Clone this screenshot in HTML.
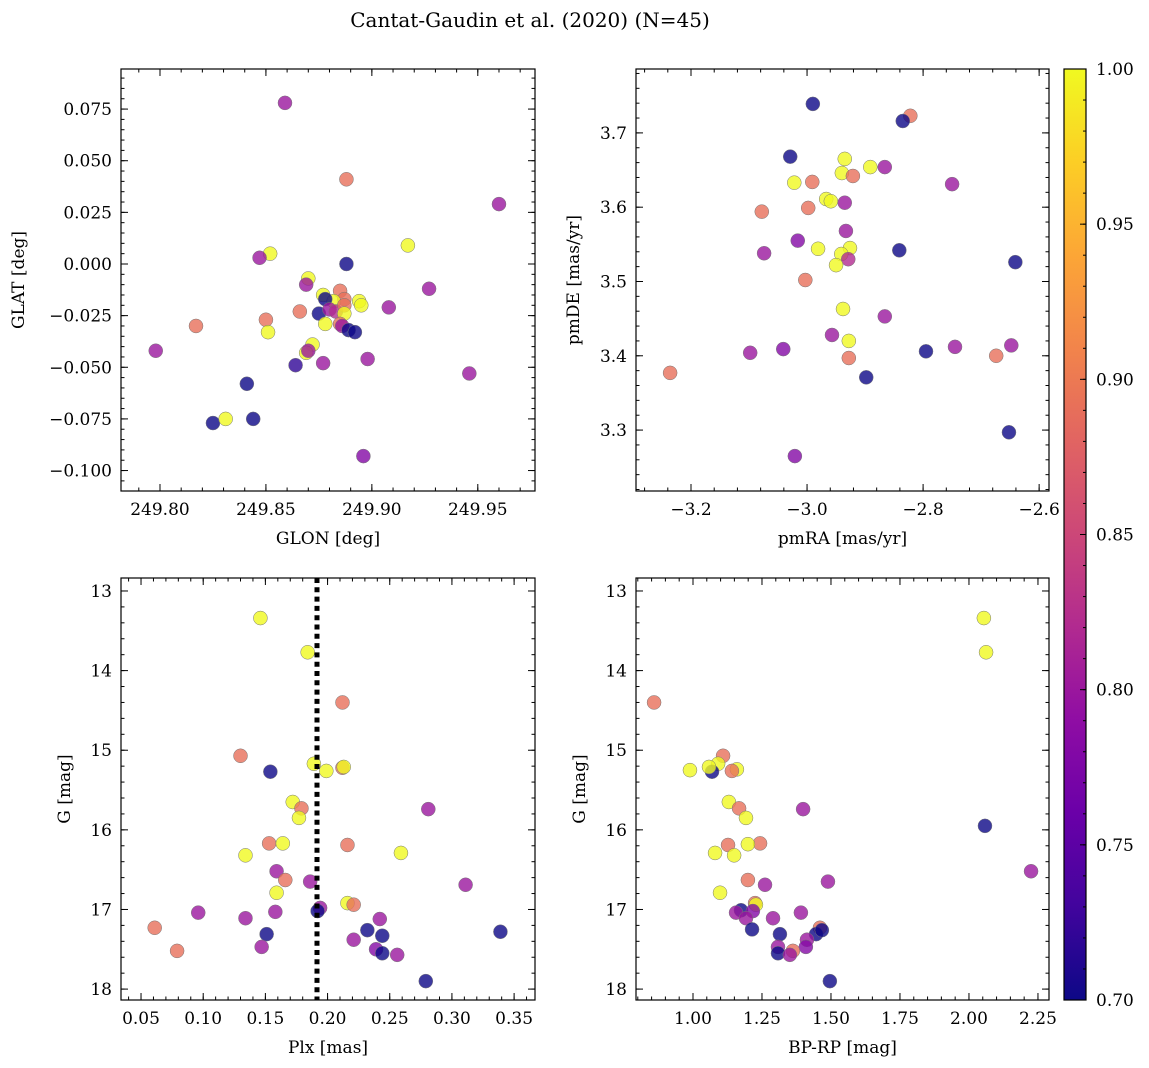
<!DOCTYPE html>
<html><head><meta charset="utf-8">
<style>
html,body{margin:0;padding:0;background:#fff;}
svg{display:block;font-family:"DejaVu Serif","Liberation Serif",serif;}
</style></head>
<body>
<svg id="fig" width="1149" height="1068" viewBox="0 0 1149 1068">
<defs>
<linearGradient id="plasma" x1="0" y1="1" x2="0" y2="0">
<stop offset="0" stop-color="#0d0887"/><stop offset="0.1" stop-color="#41049d"/><stop offset="0.2" stop-color="#6a00a8"/><stop offset="0.3" stop-color="#8f0da4"/><stop offset="0.4" stop-color="#b12a90"/><stop offset="0.5" stop-color="#cc4778"/><stop offset="0.6" stop-color="#e16462"/><stop offset="0.7" stop-color="#f2844b"/><stop offset="0.8" stop-color="#fca636"/><stop offset="0.9" stop-color="#fcce25"/><stop offset="1" stop-color="#f0f921"/>
</linearGradient>
</defs>
<text x="530" y="27" font-size="20" text-anchor="middle">Cantat-Gaudin et al. (2020) (N=45)</text>
</svg>
<script>
// ---- Data ----
const glon = [249.859,249.888,249.960,249.917,249.852,249.847,249.888,249.927,249.870,249.869,249.817,249.850,249.851,249.866,249.877,249.885,249.887,249.882,249.878,249.875,249.880,249.883,249.887,249.894,249.895,249.887,249.878,249.885,249.886,249.889,249.892,249.908,249.872,249.869,249.870,249.864,249.877,249.898,249.798,249.946,249.841,249.825,249.831,249.844,249.896];
const glat = [0.078,0.041,0.029,0.009,0.005,0.003,0.000,-0.012,-0.007,-0.010,-0.030,-0.027,-0.033,-0.023,-0.015,-0.013,-0.017,-0.018,-0.017,-0.024,-0.022,-0.023,-0.020,-0.018,-0.020,-0.024,-0.029,-0.029,-0.030,-0.032,-0.033,-0.021,-0.039,-0.043,-0.042,-0.049,-0.048,-0.046,-0.042,-0.053,-0.058,-0.077,-0.075,-0.075,-0.093];
const probA = [0.80,0.89,0.80,1.0,1.0,0.80,0.70,0.80,1.0,0.80,0.89,0.89,1.0,0.89,1.0,0.89,0.89,1.0,0.70,0.70,0.80,0.82,0.89,1.0,1.0,1.0,1.0,0.89,0.80,0.70,0.70,0.80,1.0,1.0,0.80,0.72,0.80,0.80,0.80,0.80,0.70,0.70,1.0,0.70,0.78];

const pmra = [-2.990,-2.822,-2.835,-3.029,-2.935,-2.891,-2.866,-2.940,-3.022,-2.991,-2.921,-2.750,-3.078,-2.998,-2.967,-2.959,-2.935,-2.933,-3.016,-2.981,-3.074,-2.926,-2.941,-2.929,-2.950,-2.841,-2.641,-3.003,-2.938,-2.866,-2.928,-2.957,-3.098,-3.041,-2.928,-2.795,-2.745,-2.674,-2.648,-3.236,-2.898,-2.652,-3.021];
const pmde = [3.739,3.723,3.716,3.668,3.665,3.654,3.654,3.646,3.633,3.634,3.642,3.631,3.594,3.599,3.611,3.608,3.606,3.568,3.555,3.544,3.538,3.545,3.537,3.530,3.522,3.542,3.526,3.502,3.463,3.453,3.420,3.428,3.404,3.409,3.397,3.406,3.412,3.400,3.414,3.377,3.371,3.297,3.265];
const probB = [0.70,0.89,0.70,0.70,1.0,1.0,0.80,1.0,1.0,0.89,0.89,0.80,0.89,0.89,1.0,1.0,0.80,0.80,0.78,1.0,0.80,1.0,1.0,0.82,1.0,0.70,0.70,0.89,1.0,0.80,1.0,0.80,0.80,0.78,0.89,0.70,0.80,0.89,0.80,0.89,0.70,0.70,0.78];

const plx = [0.146,0.184,0.212,0.130,0.189,0.212,0.213,0.199,0.154,0.172,0.179,0.177,0.281,0.216,0.153,0.164,0.134,0.259,0.159,0.166,0.186,0.159,0.311,0.216,0.221,0.194,0.192,0.096,0.158,0.134,0.242,0.061,0.232,0.151,0.244,0.339,0.221,0.147,0.239,0.079,0.244,0.256,0.279];
const gmagC = [13.34,13.77,14.40,15.07,15.17,15.22,15.21,15.26,15.27,15.65,15.73,15.85,15.74,16.19,16.17,16.17,16.32,16.29,16.52,16.63,16.65,16.79,16.69,16.92,16.94,16.98,17.02,17.04,17.03,17.11,17.12,17.23,17.26,17.31,17.33,17.28,17.38,17.47,17.50,17.52,17.55,17.57,17.90];
const probC = [1.0,1.0,0.89,0.89,1.0,0.89,1.0,1.0,0.70,1.0,0.89,1.0,0.80,0.89,0.89,1.0,1.0,1.0,0.80,0.89,0.80,1.0,0.80,1.0,0.89,0.80,0.70,0.80,0.80,0.80,0.80,0.89,0.70,0.70,0.70,0.70,0.80,0.80,0.78,0.89,0.70,0.80,0.70];
const plxCut = [0.1915];

const bprp = [2.054,2.062,0.859,1.109,0.989,1.091,1.069,1.058,1.159,1.141,1.130,1.167,1.399,1.192,2.058,1.127,1.243,1.199,1.080,1.149,2.225,1.199,1.261,1.489,1.098,1.225,1.228,1.174,1.217,1.156,1.391,1.192,1.290,1.214,1.315,1.460,1.446,1.467,1.413,1.308,1.409,1.362,1.308,1.351,1.496];
const gmagD = [13.34,13.77,14.40,15.07,15.25,15.17,15.27,15.21,15.24,15.26,15.65,15.73,15.74,15.85,15.95,16.19,16.17,16.18,16.29,16.32,16.52,16.63,16.69,16.65,16.79,16.92,16.94,17.01,17.02,17.04,17.04,17.11,17.11,17.25,17.31,17.23,17.31,17.26,17.38,17.47,17.47,17.52,17.55,17.57,17.90];
const probD = [1.0,1.0,0.89,0.89,1.0,1.0,0.70,1.0,1.0,0.89,1.0,0.89,0.80,1.0,0.70,0.89,0.89,1.0,1.0,1.0,0.80,0.89,0.80,0.80,1.0,0.89,1.0,0.70,0.78,0.80,0.80,0.80,0.80,0.70,0.70,0.89,0.70,0.70,0.80,0.80,0.78,0.89,0.70,0.80,0.70];

const cbTicks = [0.70,0.75,0.80,0.85,0.90,0.95,1.00];

// ---- Rendering ----
const NS='http://www.w3.org/2000/svg';
const svg=document.getElementById('fig');
function el(tag,attrs,parent){const e=document.createElementNS(NS,tag);for(const k in attrs)e.setAttribute(k,attrs[k]);(parent||svg).appendChild(e);return e;}
const stops=[[13,8,135],[65,4,157],[106,0,168],[143,13,164],[177,42,144],[204,71,120],[225,100,98],[242,132,75],[252,166,54],[252,206,37],[240,249,33]];
function plasma(v){let t=(v-0.7)/0.3;t=Math.max(0,Math.min(1,t))*10;const i=Math.min(9,Math.floor(t)),f=t-i;const a=stops[i],b=stops[i+1];return 'rgb('+a.map((c,k)=>Math.round(c+(b[k]-c)*f)).join(',')+')';}
function range(a,b,s){const r=[];for(let v=a;v<=b+s*1e-6;v+=s)r.push(+v.toFixed(6));return r;}

function panel(o){
  const g=el('g',{},svg);
  
  
  const X=v=>o.x0+(v-o.xmin)/(o.xmax-o.xmin)*(o.x1-o.x0);
  const Y=o.invert? v=>o.y0+(v-o.ymin)/(o.ymax-o.ymin)*(o.y1-o.y0) : v=>o.y1-(v-o.ymin)/(o.ymax-o.ymin)*(o.y1-o.y0);
  const pg=el('g',{},g);
  
  
  for(let i=0;i<o.xs.length;i++){
    const c=el('circle',{cx:X(o.xs[i]),cy:Y(o.ys[i]),r:7,fill:plasma(o.cs[i]),'fill-opacity':0.8,stroke:'#777','stroke-width':0.5},pg);
    
    
  }
  if(o.vline){
    const l=el('line',{x1:X(o.vline),x2:X(o.vline),y1:o.y0,y2:o.y1,stroke:'#000','stroke-width':5,'stroke-dasharray':'5,4.3'},g);
    
    
  }
  const tg=el('g',{stroke:'#000','stroke-width':1},g);
  o.xminor.forEach(v=>{if(v<o.xmin||v>o.xmax)return;const x=X(v);el('line',{x1:x,x2:x,y1:o.y1,y2:o.y1-3.5},tg);el('line',{x1:x,x2:x,y1:o.y0,y2:o.y0+3.5},tg);});
  o.yminor.forEach(v=>{const lo=Math.min(o.ymin,o.ymax),hi=Math.max(o.ymin,o.ymax);if(v<lo||v>hi)return;const y=Y(v);el('line',{x1:o.x0,x2:o.x0+3.5,y1:y,y2:y},tg);el('line',{x1:o.x1,x2:o.x1-3.5,y1:y,y2:y},tg);});
  o.xmajor.forEach(v=>{const x=X(v);el('line',{x1:x,x2:x,y1:o.y1,y2:o.y1-7},tg);el('line',{x1:x,x2:x,y1:o.y0,y2:o.y0+7},tg);
    const t=el('text',{x:x,y:o.y1+24,'font-size':17,'text-anchor':'middle',stroke:'none'},g);t.textContent=o.xfmt(v);
    });
  o.ymajor.forEach(v=>{const y=Y(v);el('line',{x1:o.x0,x2:o.x0+7,y1:y,y2:y},tg);el('line',{x1:o.x1,x2:o.x1-7,y1:y,y2:y},tg);
    const t=el('text',{x:o.x0-9,y:y+6,'font-size':17,'text-anchor':'end',stroke:'none'},g);t.textContent=o.yfmt(v);
    });
  const f=el('rect',{x:o.x0,y:o.y0,width:o.x1-o.x0,height:o.y1-o.y0,fill:'none',stroke:'#000','stroke-width':1.2},g);
  
  const xl=el('text',{x:(o.x0+o.x1)/2,y:o.y1+53,'font-size':17,'text-anchor':'middle'},g);xl.textContent=o.xlabel;
  
  const yc=(o.y0+o.y1)/2;
  const yl=el('text',{x:o.ylx,y:yc,'font-size':17,'text-anchor':'middle',transform:'rotate(-90 '+o.ylx+' '+yc+')'},g);yl.textContent=o.ylabel;
  
}
const neg=s=>s.replace('-','\u2212');
panel({name:'glon-glat-panel',x0:121,x1:535,y0:69,y1:491,xmin:249.7816,xmax:249.977,ymin:-0.1099,ymax:0.0944,
  xs:glon,ys:glat,cs:probA,xmajor:range(249.80,249.95,0.05),xminor:range(249.78,249.98,0.01),
  ymajor:range(-0.1,0.075,0.025),yminor:range(-0.11,0.095,0.005),xfmt:v=>v.toFixed(2),yfmt:v=>neg(v.toFixed(3)),
  xlabel:'GLON [deg]',ylabel:'GLAT [deg]',ylx:24});
panel({name:'proper-motion-panel',x0:636,x1:1049,y0:69,y1:491,xmin:-3.2948,xmax:-2.583,ymin:3.218,ymax:3.786,
  xs:pmra,ys:pmde,cs:probB,xmajor:range(-3.2,-2.6,0.2),xminor:range(-3.28,-2.56,0.04),
  ymajor:range(3.3,3.7,0.1),yminor:range(3.22,3.78,0.02),xfmt:v=>neg(v.toFixed(1)),yfmt:v=>v.toFixed(1),
  xlabel:'pmRA [mas/yr]',ylabel:'pmDE [mas/yr]',ylx:579});
panel({name:'parallax-magnitude-panel',x0:121,x1:535,y0:578,y1:1000,xmin:0.0339,xmax:0.3668,ymin:12.837,ymax:18.137,invert:true,
  xs:plx,ys:gmagC,cs:probC,vline:plxCut[0],xmajor:range(0.05,0.35,0.05),xminor:range(0.04,0.36,0.01),
  ymajor:range(13,18,1),yminor:range(13,18,0.2),xfmt:v=>v.toFixed(2),yfmt:v=>v.toFixed(0),
  xlabel:'Plx [mas]',ylabel:'G [mag]',ylx:70});
panel({name:'color-magnitude-panel',x0:636,x1:1049,y0:578,y1:1000,xmin:0.7935,xmax:2.29,ymin:12.837,ymax:18.137,invert:true,
  xs:bprp,ys:gmagD,cs:probD,xmajor:range(1.0,2.25,0.25),xminor:range(0.8,2.25,0.05),
  ymajor:range(13,18,1),yminor:range(13,18,0.2),xfmt:v=>v.toFixed(2),yfmt:v=>v.toFixed(0),
  xlabel:'BP-RP [mag]',ylabel:'G [mag]',ylx:585});
const cb=el('g',{},svg);


const cbx0=1064,cbx1=1086,cby0=69,cby1=1000;
el('rect',{x:cbx0,y:cby0,width:cbx1-cbx0,height:cby1-cby0,fill:'url(#plasma)',stroke:'#000','stroke-width':1.2},cb);
const CY=v=>cby1-(v-0.7)/0.3*(cby1-cby0);
range(0.70,1.0,0.01).forEach(v=>{el('line',{x1:cbx1,x2:cbx1-3,y1:CY(v),y2:CY(v),stroke:'#000'},cb);});
cbTicks.forEach(v=>{const y=CY(v);el('line',{x1:cbx1,x2:cbx1-6,y1:y,y2:y,stroke:'#000'},cb);
  const t=el('text',{x:cbx1+10,y:y+6,'font-size':17},cb);t.textContent=v.toFixed(2);
  });
</script>
</body></html>
